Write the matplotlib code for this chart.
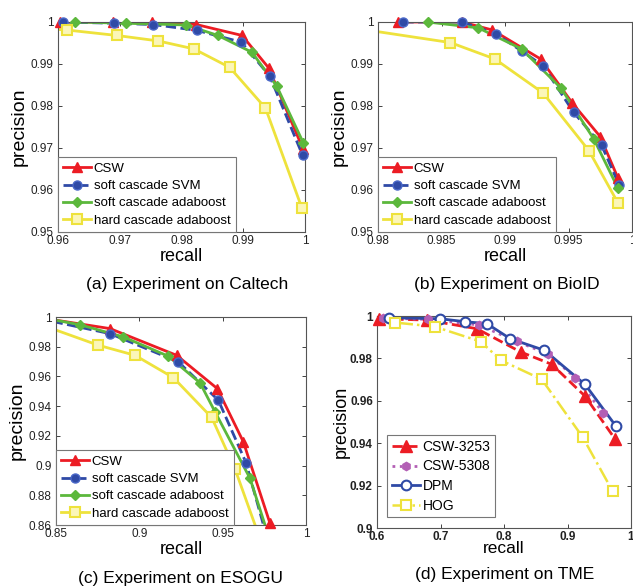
import matplotlib
matplotlib.use("Agg")
import matplotlib.pyplot as plt
from matplotlib.lines import Line2D
from matplotlib.ticker import FuncFormatter

plt.rcParams["font.family"] = ["Liberation Sans", "DejaVu Sans"]

RED = "#ec1c24"
BLUE = "#2f4aa6"
GREEN = "#5cb83c"
YELLOW = "#eee23c"
PURPLE = "#b35fb5"

# (a) Caltech
a_csw_x = [0.9604, 0.9689, 0.9753, 0.9824, 0.9898, 0.9941, 0.9997]
a_csw_y = [1.0, 1.0, 1.0, 0.9994, 0.9968, 0.9891, 0.9697]
a_svm_x = [0.9608, 0.9691, 0.9754, 0.9825, 0.9897, 0.9943, 0.9996]
a_svm_y = [1.0, 0.9997, 0.9994, 0.9980, 0.9952, 0.9871, 0.9683]
a_ada_x = [0.9627, 0.9710, 0.9807, 0.9859, 0.9914, 0.9954, 0.9997]
a_ada_y = [1.0, 0.9997, 0.9993, 0.9968, 0.9928, 0.9848, 0.9713]
a_hard_x = [0.9580, 0.9614, 0.9695, 0.9762, 0.9820, 0.9878, 0.9936, 0.9995]
a_hard_y = [0.9984, 0.9981, 0.9968, 0.9955, 0.9936, 0.9892, 0.9795, 0.9557]

# (b) BioID
b_csw_x = [0.9816, 0.9866, 0.9890, 0.9928, 0.9953, 0.9975, 0.9989]
b_csw_y = [1.0, 1.0, 0.9981, 0.9912, 0.9807, 0.9727, 0.9628]
b_svm_x = [0.9820, 0.9866, 0.9893, 0.9913, 0.9930, 0.9954, 0.9976, 0.9990]
b_svm_y = [1.0, 1.0, 0.9972, 0.9931, 0.9896, 0.9785, 0.9707, 0.9611]
b_ada_x = [0.9839, 0.9879, 0.9913, 0.9944, 0.9970, 0.9989]
b_ada_y = [1.0, 0.9986, 0.9936, 0.9843, 0.9721, 0.9604]
b_hard_x = [0.9780, 0.9857, 0.9892, 0.9930, 0.9966, 0.9989]
b_hard_y = [0.9986, 0.9951, 0.9912, 0.9831, 0.9694, 0.9569]

# (c) ESOGU
c_csw_x = [0.8480, 0.8824, 0.9224, 0.9468, 0.9624, 0.9784]
c_csw_y = [0.9982, 0.9922, 0.9742, 0.9518, 0.9160, 0.8611]
c_svm_x = [0.8480, 0.8824, 0.9234, 0.9474, 0.9640, 0.9770]
c_svm_y = [0.9970, 0.9888, 0.9698, 0.9440, 0.9019, 0.8500]
c_ada_x = [0.8480, 0.8644, 0.8904, 0.9174, 0.9364, 0.9454, 0.9664, 0.9780]
c_ada_y = [0.9982, 0.9948, 0.9866, 0.9736, 0.9557, 0.9362, 0.8914, 0.8510]
c_hard_x = [0.8480, 0.8754, 0.8974, 0.9204, 0.9434, 0.9574, 0.9720]
c_hard_y = [0.9920, 0.9810, 0.9742, 0.9592, 0.9324, 0.8977, 0.8520]

# (d) TME
d_3253_x = [0.6026, 0.6786, 0.7573, 0.8265, 0.8752, 0.9276, 0.9748]
d_3253_y = [0.9987, 0.9981, 0.9940, 0.9830, 0.9772, 0.9622, 0.9420]
d_5308_x = [0.6100, 0.6800, 0.7600, 0.8200, 0.8700, 0.9120, 0.9565]
d_5308_y = [0.9990, 0.9984, 0.9958, 0.9880, 0.9820, 0.9709, 0.9543]
d_dpm_x = [0.6183, 0.6996, 0.7389, 0.7730, 0.8097, 0.8637, 0.9277, 0.9764]
d_dpm_y = [0.9992, 0.9987, 0.9973, 0.9964, 0.9893, 0.9838, 0.9677, 0.9480]
d_hog_x = [0.5900, 0.6288, 0.6907, 0.7636, 0.7950, 0.8595, 0.9240, 0.9712]
d_hog_y = [0.9980, 0.9969, 0.9950, 0.9879, 0.9791, 0.9701, 0.9428, 0.9173]

W, H = 633, 587
fig = plt.figure(figsize=(W / 100, H / 100), dpi=100)


def box(l, t, r, b):
    return [l / W, 1 - b / H, (r - l) / W, (b - t) / H]


def curve(ax, x, y, xlim, ylim, ls, color, lw, marker, ms, mfc, mec, mew, label):
    # line is clipped to the box, markers inside the limits are not (MATLAB look)
    ax.plot(x, y, ls, color=color, lw=lw)
    inside = [(xi, yi) for xi, yi in zip(x, y)
              if xlim[0] <= xi <= xlim[1] and ylim[0] <= yi <= ylim[1]]
    ax.plot([p[0] for p in inside], [p[1] for p in inside], ls="none",
            marker=marker, ms=ms, mfc=mfc, mec=mec, mew=mew, clip_on=False,
            zorder=3)
    return Line2D([], [], ls=ls, color=color, lw=lw, marker=marker, ms=ms,
                  mfc=mfc, mec=mec, mew=mew, label=label)


def style_axes(ax, xlim, ylim, xticks, yticks, bold=False):
    ax.set_xlim(*xlim)
    ax.set_ylim(*ylim)
    ax.set_xticks(xticks)
    ax.set_yticks(yticks)
    fmt = FuncFormatter(lambda v, p: ("%.3f" % v).rstrip("0").rstrip("."))
    ax.xaxis.set_major_formatter(fmt)
    ax.yaxis.set_major_formatter(fmt)
    ax.tick_params(direction="in", length=3, width=0.6, top=True, right=True,
                   labelsize=8.5, colors="#222222")
    ax.tick_params(axis="x", pad=2)
    ax.tick_params(axis="y", pad=3)
    if bold:
        for lab in ax.get_xticklabels() + ax.get_yticklabels():
            lab.set_fontweight("bold")
    for s in ax.spines.values():
        s.set_linewidth(0.8)
        s.set_color("#555555")


def make_legend(ax, handles, **kw):
    leg = ax.legend(handles=handles, loc="lower left", handletextpad=0.2,
                    borderaxespad=0.0, fancybox=False, framealpha=1, **kw)
    leg.get_frame().set_edgecolor("#777777")
    leg.get_frame().set_linewidth(0.8)
    leg.set_zorder(5)


def four_lines(ax, sets, xlim, ylim):
    (x1, y1), (x2, y2), (x3, y3), (x4, y4) = sets
    h = [
        curve(ax, x1, y1, xlim, ylim, "-", RED, 2, "^", 7, RED, RED, 1, "CSW"),
        curve(ax, x2, y2, xlim, ylim, "--", BLUE, 2, "o", 6.5, BLUE, "#4a68c8",
              1, "soft cascade SVM"),
        curve(ax, x3, y3, xlim, ylim, "-", GREEN, 2, "D", 5.5, GREEN, GREEN, 1,
              "soft cascade adaboost"),
        curve(ax, x4, y4, xlim, ylim, "-", YELLOW, 2, "s", 6.5, "#fbf6b8",
              YELLOW, 1.5, "hard cascade adaboost"),
    ]
    make_legend(ax, h, fontsize=9.5, handlelength=2.1, labelspacing=0.38,
                borderpad=0.4)


# (a)
ax = fig.add_axes(box(58, 22, 305, 232))
xl, yl = (0.96, 1.0), (0.95, 1.0)
four_lines(ax, [(a_csw_x, a_csw_y), (a_svm_x, a_svm_y),
                (a_ada_x, a_ada_y), (a_hard_x, a_hard_y)], xl, yl)
style_axes(ax, xl, yl, [0.96, 0.97, 0.98, 0.99, 1.0],
           [0.95, 0.96, 0.97, 0.98, 0.99, 1.0])
ax.set_xlabel("recall", fontsize=13, labelpad=1)
ax.set_ylabel("precision", fontsize=14, labelpad=2)
fig.text(187 / W, 1 - 285 / H, "(a) Experiment on Caltech", fontsize=12.5,
         ha="center", va="center")

# (b)
ax = fig.add_axes(box(378, 22, 632, 232))
xl, yl = (0.98, 1.0), (0.95, 1.0)
four_lines(ax, [(b_csw_x, b_csw_y), (b_svm_x, b_svm_y),
                (b_ada_x, b_ada_y), (b_hard_x, b_hard_y)], xl, yl)
style_axes(ax, xl, yl, [0.98, 0.985, 0.99, 0.995, 1.0],
           [0.95, 0.96, 0.97, 0.98, 0.99, 1.0])
ax.set_xlabel("recall", fontsize=13, labelpad=1)
ax.set_ylabel("precision", fontsize=14, labelpad=2)
fig.text(507 / W, 1 - 285 / H, "(b) Experiment on BioID", fontsize=12.5,
         ha="center", va="center")

# (c)
ax = fig.add_axes(box(56, 317, 306, 525))
xl, yl = (0.85, 1.0), (0.86, 1.0)
four_lines(ax, [(c_csw_x, c_csw_y), (c_svm_x, c_svm_y),
                (c_ada_x, c_ada_y), (c_hard_x, c_hard_y)], xl, yl)
style_axes(ax, xl, yl, [0.85, 0.9, 0.95, 1.0],
           [0.86, 0.88, 0.9, 0.92, 0.94, 0.96, 0.98, 1.0])
ax.set_xlabel("recall", fontsize=13, labelpad=1)
ax.set_ylabel("precision", fontsize=14, labelpad=2)
fig.text(180 / W, 1 - 579 / H, "(c) Experiment on ESOGU", fontsize=12.5,
         ha="center", va="center")

# (d)
ax = fig.add_axes(box(377, 316, 631, 528))
xl, yl = (0.6, 1.0), (0.9, 1.0)
h = [
    curve(ax, d_3253_x, d_3253_y, xl, yl, "--", RED, 2, "^", 8, RED, RED, 1,
          "CSW-3253"),
    curve(ax, d_5308_x, d_5308_y, xl, yl, ":", PURPLE, 2, "h", 6, PURPLE,
          PURPLE, 1, "CSW-5308"),
    curve(ax, d_dpm_x, d_dpm_y, xl, yl, "-", BLUE, 2, "o", 7, "white", BLUE,
          1.5, "DPM"),
    curve(ax, d_hog_x, d_hog_y, xl, yl, "-.", YELLOW, 1.8, "s", 7, "white",
          YELLOW, 1.5, "HOG"),
]
style_axes(ax, xl, yl, [0.6, 0.7, 0.8, 0.9, 1.0],
           [0.9, 0.92, 0.94, 0.96, 0.98, 1.0], bold=True)
make_legend(ax, h, bbox_to_anchor=(0.04, 0.05), fontsize=10,
            handlelength=2.0, labelspacing=0.4, borderpad=0.35)
ax.set_xlabel("recall", fontsize=12.5, labelpad=-1)
ax.set_ylabel("precision", fontsize=13, labelpad=0)
fig.text(505 / W, 1 - 575 / H, "(d) Experiment on TME", fontsize=12.5,
         ha="center", va="center")

fig.savefig("out.png", dpi=100)
